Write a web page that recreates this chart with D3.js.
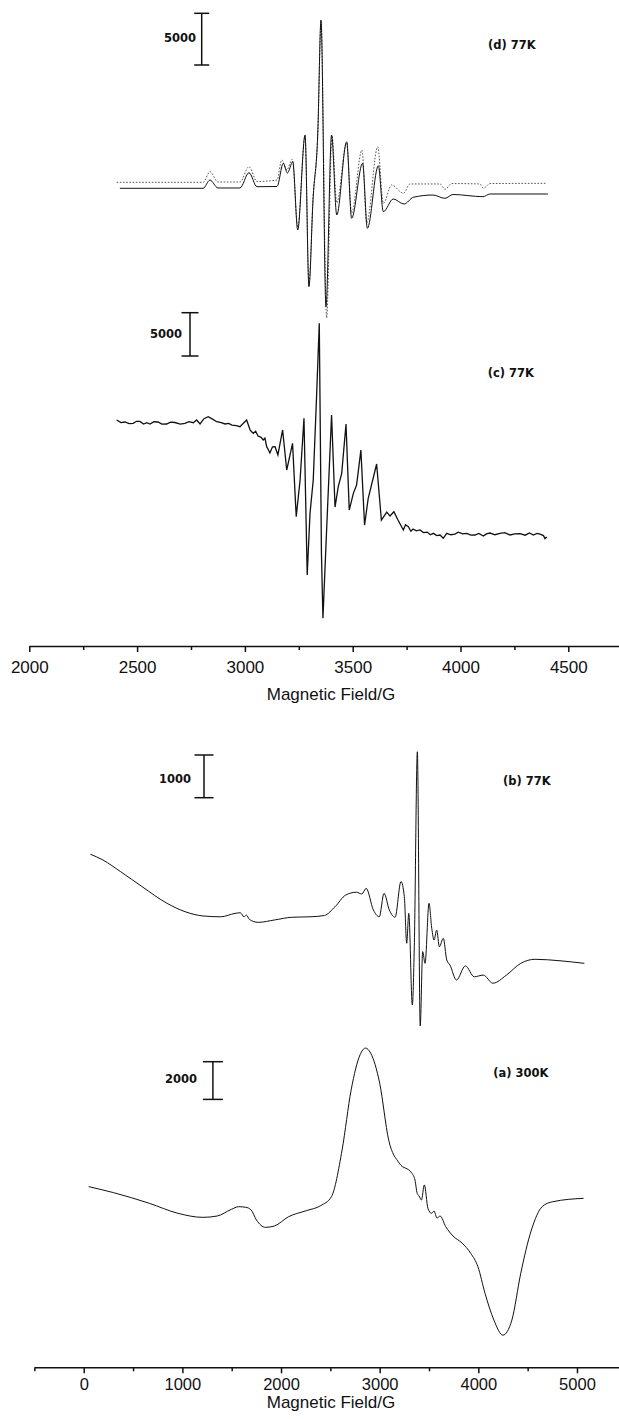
<!DOCTYPE html>
<html lang="en">
<head>
<meta charset="UTF-8">
<title>EPR spectra (a)-(d)</title>
<script src="https://d3js.org/d3.v7.min.js"></script>
<style>
  body { margin: 0; background: #fff; }
  svg { display: block; }
  .axis text { font-family: "Liberation Sans", Arial, sans-serif; fill: #111; }
  .axis path, .axis line { stroke: #111; stroke-width: 1.5; }
  .title { font-family: "Liberation Sans", Arial, sans-serif; font-size: 17px; fill: #111; }
  .tag { font-family: "DejaVu Sans", sans-serif; font-weight: bold; font-size: 11.5px; fill: #111; }
  .trace { fill: none; stroke: #111; stroke-width: 1; }
</style>
</head>
<body>
<div id="chart"></div>
<script>
// field (G) and signal (arb. units, same units as the scale bar)
const dSolid = [
  [2420, 0], [2806, 0], [2838, 800], [2875, 30], [2977, 30], [3019, 1510], [3056, 155],
  [3149, 175], [3178, 2420], [3197, 1480], [3222, 2570], [3245, -4030], [3279, 5150],
  [3297, -9515], [3316, -1130], [3338, 5350], [3353, 16275], [3376, -11450], [3402, 5150],
  [3426, -2580], [3472, 4500], [3495, -2900], [3546, 2420], [3568, -3870], [3619, 2185],
  [3642, -2260], [3688, -1035], [3738, -1520], [3781, -870], [3872, -650], [3928, -970],
  [3965, -600], [4104, -810], [4137, -550], [4405, -550]
];
const dDotted = [
  [2405, 580], [2806, 580], [2838, 1605], [2875, 610], [2977, 610], [3019, 2090], [3056, 660],
  [3149, 800], [3171, 2740], [3194, 1770], [3220, 2800], [3245, -3740], [3279, 5060],
  [3297, -9250], [3316, -900], [3338, 5060], [3353, 16080], [3379, -12540], [3404, 5060],
  [3426, -1420], [3472, 4380], [3495, -2390], [3543, 3700], [3565, -3355], [3616, 4020],
  [3642, -1450], [3681, 320], [3735, -480], [3766, 420], [3905, 420], [3928, -100],
  [3960, 460], [4090, 420], [4106, 0], [4137, 460], [4400, 480]
];
const cTrace = [
  [2405, 0], [2425, -300], [2444, -230], [2463, -420], [2482, -380], [2497, -150], [2513, -170],
  [2530, -470], [2545, -300], [2560, -460], [2578, -200], [2597, -230], [2615, -480],
  [2637, -460], [2655, -250], [2676, -290], [2700, -480], [2722, -400], [2740, -200],
  [2761, -310], [2776, 0], [2792, -460], [2810, 150], [2830, 380], [2850, 100], [2869, -200],
  [2890, -300], [2908, -460], [2925, -400], [2940, -580], [2960, -650], [2977, -770],
  [3008, 0], [3025, -1200], [3039, -1540], [3050, -1300], [3061, -1850], [3075, -2000],
  [3085, -2310], [3093, -2100], [3101, -3080], [3110, -3500], [3116, -3810], [3128, -3100],
  [3140, -3080], [3153, -4040], [3175, -1150], [3194, -5780], [3221, -2690], [3238, -11170],
  [3256, -6930], [3274, 200], [3289, -17900], [3302, -10780], [3317, -6930], [3333, 3080],
  [3345, 11170], [3355, -15400], [3362, -22900], [3379, -12700], [3402, 580], [3418, -10050],
  [3433, -7700], [3449, -6160], [3469, -460], [3484, -10400], [3503, -8470], [3518, -7510],
  [3538, -3470], [3555, -12130], [3572, -9040], [3611, -5080], [3633, -11550], [3658, -10630],
  [3673, -11090], [3691, -10590], [3710, -11550], [3735, -12700], [3745, -12100],
  [3758, -12320], [3770, -12850], [3780, -12590], [3795, -12800], [3812, -12700],
  [3828, -13000], [3845, -12940], [3860, -13250], [3874, -13090], [3890, -13350],
  [3905, -13280], [3920, -13660], [3936, -13090], [3955, -13250], [3974, -13170],
  [3990, -12950], [4010, -13150], [4029, -13090], [4048, -13300], [4067, -13280],
  [4085, -13100], [4106, -13400], [4120, -13150], [4137, -13050], [4160, -13250],
  [4183, -13090], [4205, -13000], [4230, -13280], [4252, -13150], [4276, -13110],
  [4300, -13300], [4320, -13050], [4338, -13280], [4355, -13100], [4369, -13170],
  [4385, -13350], [4392, -13700], [4400, -13510]
];
const bTrace = [
  [68, 1540], [195, 1405], [375, 1130], [592, 780], [845, 390], [1027, 195], [1208, 95],
  [1389, 75], [1534, 155], [1588, 170], [1624, 75], [1649, 115], [1679, 15], [1769, -55],
  [1932, 0], [2113, 65], [2294, 75], [2439, 105], [2547, 310], [2656, 585], [2764, 650],
  [2819, 610], [2863, 740], [2936, 235], [2996, 75], [3044, 625], [3098, 235], [3156, 65],
  [3216, 900], [3250, 545], [3274, -545], [3295, 155], [3331, -1990], [3351, -625],
  [3382, 3940], [3411, -2480], [3436, -740], [3460, -1015], [3500, 390], [3528, -195],
  [3551, -470], [3578, -235], [3605, -625], [3645, -430], [3680, -935], [3713, -1055],
  [3778, -1405], [3869, -1075], [3959, -1330], [4050, -1290], [4148, -1480], [4285, -1290],
  [4430, -1015], [4575, -920], [4828, -955], [5075, -1015]
];
const aTrace = [
  [50, 1240], [303, 920], [665, 355], [955, -175], [1208, -390], [1352, -320], [1497, 35],
  [1570, 175], [1642, 145], [1697, 0], [1751, -530], [1842, -920], [1932, -850],
  [2077, -355], [2257, -35], [2402, 230], [2511, 705], [2619, 3185], [2711, 6375],
  [2801, 8230], [2856, 8590], [2909, 8320], [3000, 6730], [3091, 3720], [3199, 2480],
  [3326, 1950], [3358, 1590], [3380, 885], [3399, 745], [3423, 530], [3453, 1330],
  [3489, 90], [3525, -175], [3551, -55], [3581, -425], [3612, -320], [3670, -885],
  [3743, -1380], [3835, -1750], [3923, -2300], [3996, -3010], [4068, -4425], [4158, -5840],
  [4249, -6640], [4340, -5840], [4430, -3360], [4538, -1060], [4647, 175], [4756, 440],
  [5067, 620]
];

const topMajor = [2000, 2500, 3000, 3500, 4000, 4500];
const topMinor = [2250, 2750, 3250, 3750, 4250, 4750];
const bottomMajor = [0, 1000, 2000, 3000, 4000, 5000];
const bottomMinor = [-500, 500, 1500, 2500, 3500, 4500, 5500];
const axisTitle = "Magnetic Field/G";

const panelTags = ["(d) 77K", "(c) 77K", "(b) 77K", "(a) 300K"];
const barValues = [5000, 5000, 1000, 2000];

const W = 619, H = 1419;
const svg = d3.select("#chart").append("svg").attr("width", W).attr("height", H);

// x scales, one per axis
const xTop = d3.scaleLinear().domain([2000, 4750]).range([29.3, 622.2]);
const xBot = d3.scaleLinear().domain([-500, 5500]).range([34.4, 626.3]);

function drawAxis(x, y, major, minor, labelSize, titleY) {
  const g = svg.append("g").attr("class", "axis").attr("transform", `translate(0,${y})`);
  g.call(d3.axisBottom(x).tickValues(major).tickSize(6).tickSizeOuter(0).tickPadding(labelSize > 16.8 ? 9 : 5)
    .tickFormat(d3.format("d")));
  g.selectAll("text").style("font-size", labelSize + "px");
  svg.append("g").attr("class", "axis").attr("transform", `translate(0,${y})`)
    .call(d3.axisBottom(x).tickValues(minor).tickSize(4).tickFormat(""))
    .select(".domain").remove();
  svg.append("text").attr("class", "title")
    .attr("x", 331).attr("y", titleY).attr("text-anchor", "middle").text(axisTitle);
}
drawAxis(xTop, 646, topMajor, topMinor, 17, 700);
drawAxis(xBot, 1367.3, bottomMajor, bottomMinor, 16.5, 1408);

// panel layout: zero level, bar length in px, bar and label placement
const layout = [
  { x: xTop, zeroY: 188.3, barPx: 51.7, barX: 201.7, barTop: 13.3, capW: 15, labX: 196, labY: 42, tagX: 488, tagY: 49 },
  { x: xTop, zeroY: 420, barPx: 43.3, barX: 190, barTop: 312.7, capW: 17, labX: 182, labY: 338.3, tagX: 487.7, tagY: 376.7 },
  { x: xBot, zeroY: 920, barPx: 42.7, barX: 204, barTop: 755, capW: 19, labX: 191, labY: 782.7, tagX: 503, tagY: 785 },
  { x: xBot, zeroY: 1210, barPx: 37.7, barX: 212.9, barTop: 1061.7, capW: 20, labX: 197, labY: 1083.3, tagX: 493.2, tagY: 1077 }
];
const series = [
  [{ data: dDotted, dash: "1.6,1.6", color: "#555" }, { data: dSolid }],
  [{ data: cTrace, width: 1.3, linear: true }],
  [{ data: bTrace }],
  [{ data: aTrace }]
];

layout.forEach((p, i) => {
  const y = d3.scaleLinear().domain([0, barValues[i]]).range([p.zeroY, p.zeroY - p.barPx]);
  series[i].forEach(s => {
    const line = d3.line()
      .x(d => p.x(d[0]))
      .y(d => y(d[1]))
      .curve(s.linear ? d3.curveLinear : d3.curveMonotoneX);
    svg.append("path").attr("class", "trace")
      .attr("d", line(s.data))
      .style("stroke", s.color || "#111")
      .style("stroke-width", s.width || 1)
      .style("stroke-dasharray", s.dash || null);
  });

  // scale bar
  const len = y(0) - y(barValues[i]);
  const bar = svg.append("g").attr("stroke", "#111").attr("stroke-width", 1.5);
  bar.append("line").attr("x1", p.barX).attr("x2", p.barX).attr("y1", p.barTop).attr("y2", p.barTop + len);
  [p.barTop, p.barTop + len].forEach(yy => {
    bar.append("line").attr("x1", p.barX - p.capW / 2).attr("x2", p.barX + p.capW / 2).attr("y1", yy).attr("y2", yy);
  });
  svg.append("text").attr("class", "tag").attr("x", p.labX).attr("y", p.labY)
    .attr("text-anchor", "end").text(barValues[i]);
  svg.append("text").attr("class", "tag").attr("x", p.tagX).attr("y", p.tagY).text(panelTags[i]);
});
</script>
</body>
</html>
